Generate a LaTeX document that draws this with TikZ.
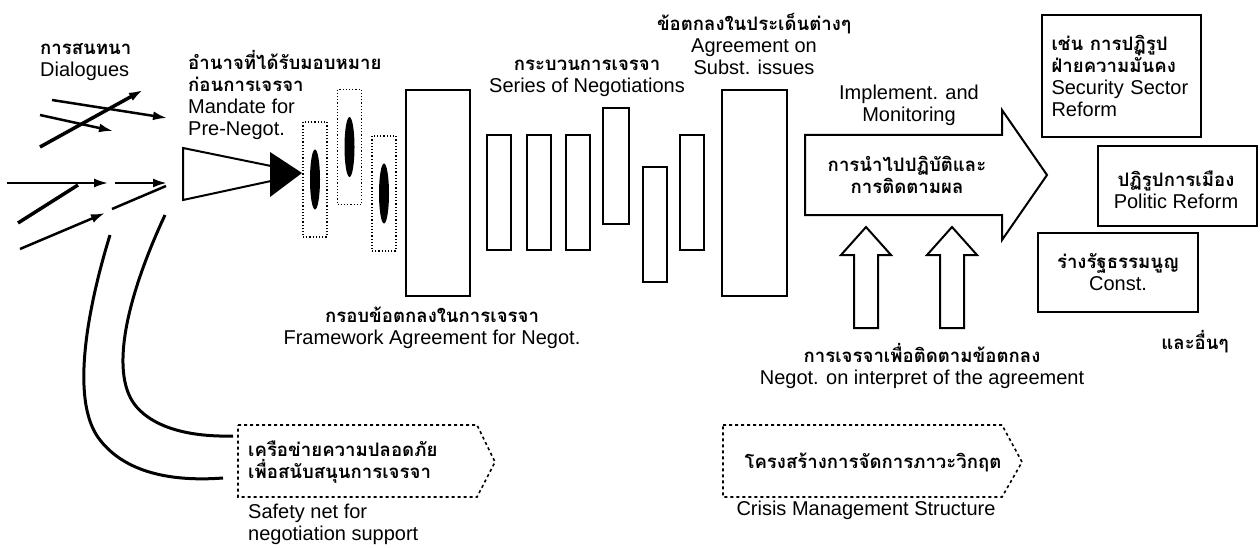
\documentclass[tikz,border=0pt]{standalone}
\usepackage{fontspec}
\setmainfont{Liberation Sans}
\newfontfamily\thaifont[Script=Thai,Scale=0.93]{Loma}
\usetikzlibrary{positioning,arrows.meta}
\newcommand{\thb}[1]{{\thaifont\bfseries #1}}
\newcommand{\lblfont}{\fontsize{20}{22}\selectfont\lineskiplimit=-20pt}

\begin{document}
\begin{tikzpicture}[x=1pt,y=-1pt,
        lbl/.style={font=\lblfont, inner sep=0pt, align=center},
        bar/.style={draw, line width=2pt, minimum width=24pt, minimum height=115pt, inner sep=0pt},
        dotbox/.style={draw, dotted, line width=1.2pt, minimum width=24pt, minimum height=115pt, inner sep=0pt},
        rbox/.style={draw, line width=2pt, inner sep=0pt, align=center, font=\lblfont},
        netbox/.style={draw, dash pattern=on 3pt off 3pt, line width=1.6pt},
        flow/.style={line width=2.5pt, -{Latex[length=14pt,width=9pt]}},
        hollow/.style={draw, line width=2pt, fill=white}]
        \useasboundingbox (0,0) rectangle (1260,548);

        %% Dialogues
        \node[lbl, anchor=west, align=left] (dlg) at (40,62) {\thb{การสนทนา}\\Dialogues};
        \coordinate (d1s) at (40,147);  \coordinate (d1e) at (143,90);
        \coordinate (d2s) at (52,100);  \coordinate (d2e) at (167,118);
        \coordinate (d3s) at (40,115);  \coordinate (d3e) at (113,131);
        \coordinate (d4s) at (7,183);   \coordinate (d4e) at (108,183);
        \coordinate (d5s) at (115,183); \coordinate (d5e) at (167,183);
        \coordinate (d6s) at (18,223);  \coordinate (d6e) at (78,185);
        \coordinate (d7s) at (112,209); \coordinate (d7e) at (166,186);
        \coordinate (d8s) at (20,249);  \coordinate (d8e) at (105,213);
        \draw[flow, line width=3.5pt] (d1s) -- (d1e);
        \draw[flow] (d2s) -- (d2e);
        \draw[flow] (d3s) -- (d3e);
        \draw[flow, line width=2pt] (d4s) -- (d4e);
        \draw[flow] (d5s) -- (d5e);
        \draw[line width=3.5pt] (d6s) -- (d6e);
        \draw[line width=2.5pt] (d7s) -- (d7e);
        \draw[flow] (d8s) -- (d8e);

        %% Safety net curves
        \coordinate (c1s) at (110,235); \coordinate (c1e) at (223,478);
        \coordinate (c2s) at (165,215); \coordinate (c2e) at (233,436);
        \draw[line width=3pt] (c1s) .. controls (90,300) and (68,400) .. (100,440)
            .. controls (125,472) and (170,482) .. (c1e);
        \draw[line width=3pt] (c2s) .. controls (130,290) and (108,370) .. (135,405)
            .. controls (155,430) and (195,437) .. (c2e);

        %% Mandate
        \node[lbl, anchor=west, align=left] (mandate) at (188,95)
            {\thb{อำนาจที่ได้รับมอบหมาย}\\\thb{ก่อนการเจรจา}\\Mandate for\\Pre-Negot.};
        \draw[line width=2pt, fill=white] (183,148) -- (271,166) -- (271,181) -- (183,200) -- cycle;
        \fill (270,152) -- (302,173) -- (270,197) -- cycle;

        \node[dotbox] (m1) at (315,179.5) {};
        \node[dotbox] (m2) at (349.5,147) {};
        \node[dotbox] (m3) at (384,193.5) {};
        \fill (m1.center) ellipse [x radius=5pt, y radius=30pt];
        \fill (m2.center) ellipse [x radius=5pt, y radius=30pt];
        \fill (m3.center) ellipse [x radius=5pt, y radius=30pt];

        %% Framework and negotiations
        \node[bar, minimum width=64pt, minimum height=206pt] (frame) at (438,193) {};
        \node[lbl] (framelbl) at (432,328) {\thb{กรอบข้อตกลงในการเจรจา}\\Framework Agreement for Negot.};
        \node[bar] (n1) at (499,192.5) {};
        \node[bar] (n2) at (539,192.5) {};
        \node[bar] (n3) at (578,192.5) {};
        \node[bar, minimum width=26pt] (n4) at (616,166) {};
        \node[bar] (n5) at (654.5,224.5) {};
        \node[bar] (n6) at (691.5,192.5) {};
        \node[lbl] (series) at (587,78) {\thb{กระบวนการเจรจา}\\Series of Negotiations};
        \node[bar, minimum width=65pt, minimum height=206pt] (subst) at (754.5,193) {};
        \node[lbl] (substlbl) at (754,44) {\thb{ข้อตกลงในประเด็นต่างๆ}\\Agreement on\\Subst. issues};

        %% Implementation
        \node[lbl] (impl) at (909,105) {Implement. and\\Monitoring};
        \draw[hollow] (805,135) -- (1002,135) -- (1002,110) -- (1047,175) -- (1002,240)
            -- (1002,215) -- (805,215) -- cycle;
        \node[lbl] (impllbl) at (907,175) {\thb{การนำไปปฏิบัติและ}\\\thb{การติดตามผล}};
        \draw[hollow] (854,328) -- (854,255) -- (841,255) -- (866,227) -- (891,255)
            -- (878,255) -- (878,328) -- cycle;
        \draw[hollow] (940,328) -- (940,255) -- (927,255) -- (952,227) -- (977,255)
            -- (964,255) -- (964,328) -- cycle;
        \node[lbl] (interp) at (922,366) {\thb{การเจรจาเพื่อติดตามข้อตกลง}\\Negot. on interpret of the agreement};

        %% Reforms
        \node[rbox, minimum width=159pt, minimum height=122pt, text width=140pt, align=left] (ssr)
            at (1121.5,76) {\thb{เช่น การปฏิรูป}\\\thb{ฝ่ายความมั่นคง}\\Security Sector\\Reform};
        \node[rbox, minimum width=159pt, minimum height=80pt] (pol) at (1177.5,186) {};
        \node[lbl] (poltxt) at (1176,190) {\thb{ปฏิรูปการเมือง}\\Politic Reform};
        \node[rbox, minimum width=160pt, minimum height=79pt] (const) at (1118,272.5)
            {\thb{ร่างรัฐธรรมนูญ}\\Const.};
        \node[lbl] (etc) at (1195,342) {\thb{และอื่นๆ}};

        %% Support structures
        \draw[netbox] (238,425) -- (477,425) -- (495,462) -- (477,497) -- (238,497) -- cycle;
        \node[lbl, anchor=west, align=left] (net) at (248,462) {\thb{เครือข่ายความปลอดภัย}\\\thb{เพื่อสนับสนุนการเจรจา}};
        \node[lbl, anchor=west, align=left] (netlbl) at (248,524) {Safety net for\\negotiation support};
        \draw[netbox] (723,425) -- (1002,425) -- (1022,462) -- (1002,497) -- (723,497) -- cycle;
        \node[lbl] (crisis) at (873,462) {\thb{โครงสร้างการจัดการภาวะวิกฤต}};
        \node[lbl] (crisislbl) at (866,510) {Crisis Management Structure};
    \end{tikzpicture}
\end{document}
